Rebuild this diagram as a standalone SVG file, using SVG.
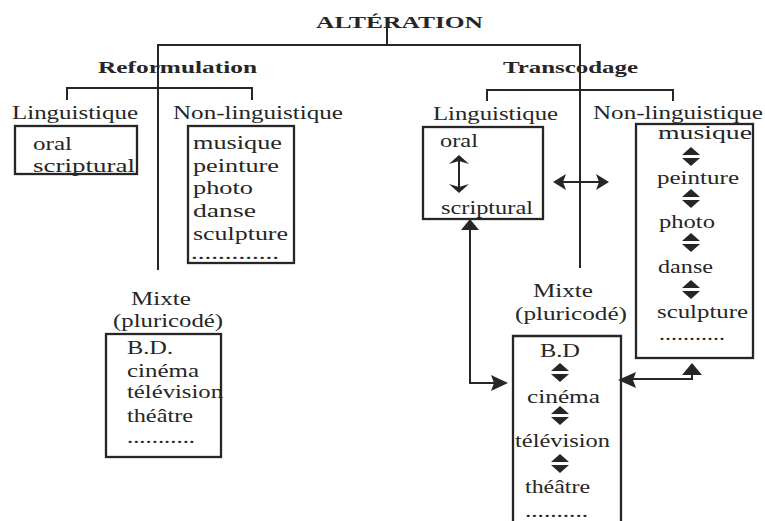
<svg xmlns="http://www.w3.org/2000/svg" width="765" height="521" viewBox="0 0 765 521">
<defs>
<style>
text{font-family:"Liberation Serif","Times New Roman",serif;font-size:18px;fill:#262626}
.b{font-weight:bold;font-size:17px}
.ln{stroke:#262626;stroke-width:2;fill:none}
.bx{stroke:#262626;stroke-width:2.3;fill:none}
.ah{fill:#262626;stroke:none}
</style>
</defs>
<rect width="765" height="521" fill="#ffffff"/>
<g id="connectors">
<line class="ln" x1="387" y1="26" x2="387" y2="45"/>
<polyline class="ln" points="158,270 158,45 580,45 580,268"/>
<polyline class="ln" points="67,100 67,88 252,88 252,100"/>
<polyline class="ln" points="487,101 487,90 673,90 673,101"/>
<line class="ln" x1="459" y1="160" x2="459" y2="188"/>
<path class="ah" d="M449,164 L459,155 L469,164 L459,161 Z"/>
<path class="ah" d="M449,184 L459,193 L469,184 L459,187 Z"/>
<line class="ln" x1="560" y1="182" x2="603" y2="182"/>
<path class="ah" d="M553,182 L566,174 L563,182 L566,190 Z"/>
<path class="ah" d="M609,182 L596,174 L599,182 L596,190 Z"/>
<polyline class="ln" points="470,228 470,383 495,383"/>
<path class="ah" d="M470,219 L479,230 L461,230 Z"/>
<path class="ah" d="M508,383 L491,375 L494,383 L491,391 Z"/>
<polyline class="ln" points="692,372 692,379 630,379"/>
<path class="ah" d="M692,363 L702,375 L682,375 Z"/>
<path class="ah" d="M618,380 L636,372 L633,380 L636,388 Z"/>
</g>
<g id="alteration"><text class="b" x="316" y="28" textLength="167" lengthAdjust="spacingAndGlyphs">ALTÉRATION</text></g>
<g id="reformulation"><text class="b" x="98" y="73" textLength="159" lengthAdjust="spacingAndGlyphs">Reformulation</text></g>
<g id="transcodage"><text class="b" x="503" y="73" textLength="135" lengthAdjust="spacingAndGlyphs">Transcodage</text></g>
<g id="ref-linguistique">
<text x="12" y="119" textLength="126" lengthAdjust="spacingAndGlyphs">Linguistique</text>
<rect class="bx" x="15" y="126" width="122" height="48"/>
<text x="33" y="150" textLength="39" lengthAdjust="spacingAndGlyphs">oral</text>
<text x="33" y="172" textLength="102" lengthAdjust="spacingAndGlyphs">scriptural</text>
</g>
<g id="ref-non-linguistique">
<text x="173" y="119" textLength="170" lengthAdjust="spacingAndGlyphs">Non-linguistique</text>
<rect class="bx" x="188" y="126" width="106" height="137"/>
<text x="193" y="149" textLength="89" lengthAdjust="spacingAndGlyphs">musique</text>
<text x="193" y="172" textLength="86" lengthAdjust="spacingAndGlyphs">peinture</text>
<text x="193" y="194" textLength="60" lengthAdjust="spacingAndGlyphs">photo</text>
<text x="193" y="217" textLength="63" lengthAdjust="spacingAndGlyphs">danse</text>
<text x="193" y="240" textLength="95" lengthAdjust="spacingAndGlyphs">sculpture</text>
<text x="191" y="259" textLength="88" lengthAdjust="spacingAndGlyphs">.............</text>
</g>
<g id="ref-mixte">
<text x="131" y="305" textLength="60" lengthAdjust="spacingAndGlyphs">Mixte</text>
<text x="113" y="327" textLength="110" lengthAdjust="spacingAndGlyphs">(pluricodé)</text>
<rect class="bx" x="106" y="334" width="115" height="123"/>
<text x="127" y="354" textLength="46" lengthAdjust="spacingAndGlyphs">B.D.</text>
<text x="127" y="377" textLength="72" lengthAdjust="spacingAndGlyphs">cinéma</text>
<text x="127" y="398" textLength="96" lengthAdjust="spacingAndGlyphs">télévision</text>
<text x="127" y="422" textLength="66" lengthAdjust="spacingAndGlyphs">théâtre</text>
<text x="127" y="443" textLength="68" lengthAdjust="spacingAndGlyphs">...........</text>
</g>
<g id="trans-linguistique">
<text x="433" y="120" textLength="125" lengthAdjust="spacingAndGlyphs">Linguistique</text>
<rect class="bx" x="423" y="127" width="120" height="92"/>
<text x="440" y="147" textLength="38" lengthAdjust="spacingAndGlyphs">oral</text>
<text x="441" y="214" textLength="92" lengthAdjust="spacingAndGlyphs">scriptural</text>
</g>
<g id="trans-non-linguistique">
<text x="593" y="119" textLength="170" lengthAdjust="spacingAndGlyphs">Non-linguistique</text>
<rect class="bx" x="636" y="124" width="117" height="234"/>
<text x="658" y="139" textLength="94" lengthAdjust="spacingAndGlyphs">musique</text>
<path class="ah" d="M682,155 L691,147 L700,155 Z M682,158 L691,166 L700,158 Z"/>
<text x="657" y="184" textLength="82" lengthAdjust="spacingAndGlyphs">peinture</text>
<path class="ah" d="M682,197 L691,189 L700,197 Z M682,200 L691,208 L700,200 Z"/>
<text x="659" y="228" textLength="56" lengthAdjust="spacingAndGlyphs">photo</text>
<path class="ah" d="M682,241 L691,233 L700,241 Z M682,244 L691,252 L700,244 Z"/>
<text x="658" y="273" textLength="55" lengthAdjust="spacingAndGlyphs">danse</text>
<path class="ah" d="M682,288 L691,280 L700,288 Z M682,291 L691,299 L700,291 Z"/>
<text x="657" y="318" textLength="91" lengthAdjust="spacingAndGlyphs">sculpture</text>
<text x="659" y="340" textLength="66" lengthAdjust="spacingAndGlyphs">...........</text>
</g>
<g id="trans-mixte">
<text x="533" y="297" textLength="60" lengthAdjust="spacingAndGlyphs">Mixte</text>
<text x="515" y="320" textLength="112" lengthAdjust="spacingAndGlyphs">(pluricodé)</text>
<polyline class="bx" points="513,523 513,336 621,336 621,523"/>
<text x="540" y="357" textLength="40" lengthAdjust="spacingAndGlyphs">B.D</text>
<path class="ah" d="M551,371 L560,363 L569,371 Z M551,374 L560,382 L569,374 Z"/>
<text x="527" y="403" textLength="73" lengthAdjust="spacingAndGlyphs">cinéma</text>
<path class="ah" d="M551,414 L560,406 L569,414 Z M551,417 L560,425 L569,417 Z"/>
<text x="515" y="447" textLength="95" lengthAdjust="spacingAndGlyphs">télévision</text>
<path class="ah" d="M551,462 L560,454 L569,462 Z M551,465 L560,473 L569,465 Z"/>
<text x="525" y="493" textLength="65" lengthAdjust="spacingAndGlyphs">théâtre</text>
<text x="525" y="517" textLength="63" lengthAdjust="spacingAndGlyphs">..........</text>
</g>
</svg>
